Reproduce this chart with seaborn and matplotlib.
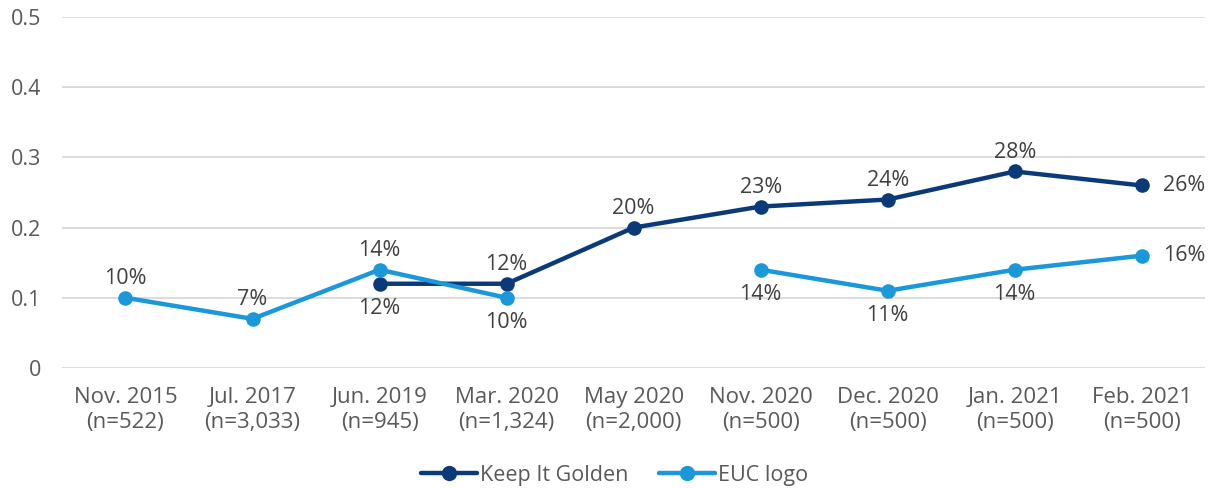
import numpy as np
import pandas as pd
import matplotlib
matplotlib.use("Agg")
import matplotlib.pyplot as plt
from matplotlib.lines import Line2D
import seaborn as sns

categories = ["Nov. 2015\n(n=522)", "Jul. 2017\n(n=3,033)", "Jun. 2019\n(n=945)",
              "Mar. 2020\n(n=1,324)", "May 2020\n(n=2,000)", "Nov. 2020\n(n=500)",
              "Dec. 2020\n(n=500)", "Jan. 2021\n(n=500)", "Feb. 2021\n(n=500)"]
keep_it_golden = [np.nan, np.nan, 0.12, 0.12, 0.20, 0.23, 0.24, 0.28, 0.26]
euc_logo = [0.10, 0.07, 0.14, 0.10, np.nan, 0.14, 0.11, 0.14, 0.16]
series_names = ["Keep It Golden", "EUC logo"]
yticks = [0, 0.1, 0.2, 0.3, 0.4, 0.5]
ytick_labels = ["0", "0.1", "0.2", "0.3", "0.4", "0.5"]

# label placement per point: 'a' above, 'b' below, 'r' right
kig_pos = [None, None, 'b', 'a', 'a', 'a', 'a', 'a', 'r']
euc_pos = ['a', 'a', 'a', 'b', None, 'b', 'b', 'b', 'r']

colors = {"Keep It Golden": "#0b3a78", "EUC logo": "#1a98da"}

sns.set_theme(style="white")
plt.rcParams['font.family'] = ['Open Sans', 'DejaVu Sans']

rows = []
for name, vals in zip(series_names, [keep_it_golden, euc_logo]):
    seg = 0
    for i, v in enumerate(vals):
        if np.isnan(v):
            seg += 1
            continue
        rows.append({"x": i, "y": v, "series": name, "seg": f"{name}-{seg}"})
df = pd.DataFrame(rows)

fig, ax = plt.subplots(figsize=(12.15, 4.88), dpi=100)
fig.subplots_adjust(left=0.051, right=0.992, top=0.965, bottom=0.246)

sns.lineplot(data=df, x="x", y="y", hue="series", units="seg", estimator=None,
             palette=colors, hue_order=series_names, marker="o", markersize=10.5,
             markeredgewidth=0, linewidth=3.2, ax=ax, legend=False, sort=True)

label_color = "#404040"
fs = 15.5
for vals, pos in [(keep_it_golden, kig_pos), (euc_logo, euc_pos)]:
    for i, (v, p) in enumerate(zip(vals, pos)):
        if p is None or np.isnan(v):
            continue
        txt = f"{round(v*100):d}%"
        if p == 'a':
            ax.annotate(txt, (i, v), xytext=(0, 6), textcoords="offset points",
                        ha="center", va="bottom", fontsize=fs, color=label_color)
        elif p == 'b':
            ax.annotate(txt, (i, v), xytext=(0, -10), textcoords="offset points",
                        ha="center", va="top", fontsize=fs, color=label_color)
        else:
            ax.annotate(txt, (i, v), xytext=(15, 0), textcoords="offset points",
                        ha="left", va="center", fontsize=fs, color=label_color)

ax.set_xlim(-0.5, 8.5)
ax.set_ylim(0, 0.5)
ax.set_xticks(range(len(categories)))
ax.set_xticklabels(categories, fontsize=16, color="#595959", linespacing=1.2)
ax.set_yticks(yticks)
ax.set_yticklabels(ytick_labels, fontsize=15.5, color="#595959")
ax.tick_params(axis="y", length=0, pad=15)
ax.tick_params(axis="x", length=0, pad=14)
ax.yaxis.grid(True, color="#d9d9d9", linewidth=1.3)
ax.set_axisbelow(True)
for s in ax.spines.values():
    s.set_visible(False)
ax.set_xlabel("")
ax.set_ylabel("")

handles = [Line2D([0], [0], color=colors[n], marker="o", markersize=11, linewidth=3.2,
                  markeredgewidth=0) for n in series_names]
fig.legend(handles, series_names, loc="lower center", ncol=2, frameon=False,
           fontsize=15.5, bbox_to_anchor=(0.506, -0.035), handlelength=2.6,
           handletextpad=0.15, columnspacing=1.4, labelcolor="#595959")

fig.savefig("out.png", dpi=100)
